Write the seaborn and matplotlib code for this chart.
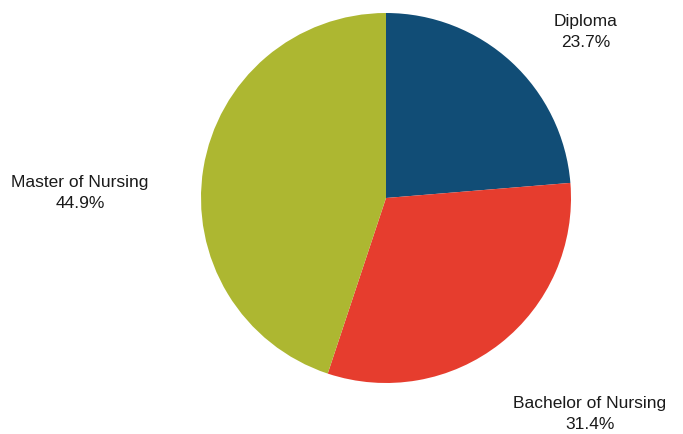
import matplotlib
matplotlib.use("Agg")
import matplotlib.pyplot as plt
import seaborn as sns

categories = ["Diploma", "Bachelor of Nursing", "Master of Nursing"]
values = [23.7, 31.4, 44.9]
colors = ["#114d76", "#e63d2e", "#adb731"]

sns.set_theme(style="white")
plt.rcParams['font.family'] = ['Liberation Sans Narrow', 'Liberation Sans', 'DejaVu Sans']

W, H = 683, 434
fig = plt.figure(figsize=(W / 100, H / 100), dpi=100)
cx, cy, r = 386, 198, 185
ax = fig.add_axes([(cx - r) / W, (H - cy - r) / H, 2 * r / W, 2 * r / H])
ax.pie(values, colors=sns.color_palette(colors), startangle=90, counterclock=False,
       radius=1, wedgeprops=dict(linewidth=0))
ax.set_xlim(-1, 1)
ax.set_ylim(-1, 1)
ax.set_aspect('equal')
ax.axis('off')

label_pos = [(1.081, 0.897), (1.103, -1.168), (-1.654, 0.027)]
for cat, val, (x, y) in zip(categories, values, label_pos):
    ax.text(x, y, f"{cat}\n{val:.1f}%", ha='center', va='center', fontsize=12.5,
            color='#1a1a1a', clip_on=False, linespacing=1.5)

fig.savefig("out.png", dpi=100)
